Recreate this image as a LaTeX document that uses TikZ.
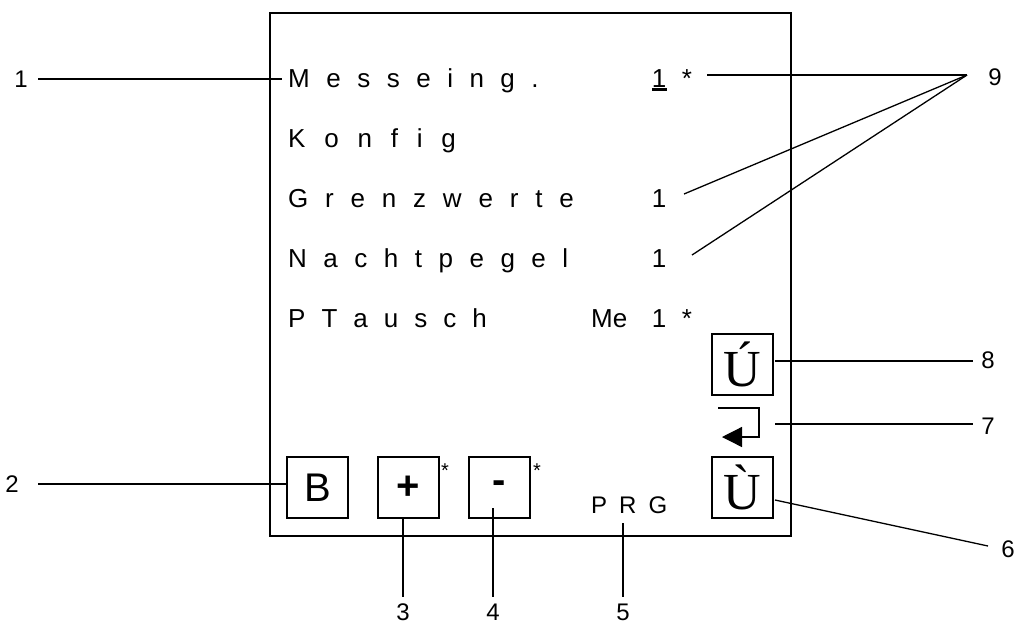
\documentclass[tikz,border=0pt]{standalone}
\usepackage{fontspec}
\setmainfont{Liberation Sans}
\newfontfamily\nf{Liberation Sans}
\newfontfamily\uf{Liberation Serif}
\usetikzlibrary{arrows.meta}
\newcommand\wsp[1]{\spaceskip=#1\relax}
\begin{document}
\begin{tikzpicture}[x=1pt,y=-1pt,
  rowtext/.style={anchor=base west, inner sep=0pt, font=\nf\fontsize{26}{30}\selectfont},
  valtext/.style={anchor=base, inner sep=0pt, font=\nf\fontsize{26}{30}\selectfont},
  lbl/.style={inner sep=0pt, font=\nf\fontsize{24}{28}\selectfont},
  btn/.style={draw, line width=2pt, minimum width=61pt, minimum height=61pt, inner sep=0pt},
  lead/.style={line width=1.3pt},
  starmark/.style={inner sep=0pt, font=\nf\fontsize{20}{20}\selectfont}]
\useasboundingbox (0,0) rectangle (1017,625);
\fill[white] (0,0) rectangle (1017,625);
% frame
\draw[line width=2pt] (270,13) rectangle (791,536);
% rows
\node[rowtext] (r1) at (288,87) {\wsp{16.5pt}M e s s e i n g .};
\node[rowtext] (r2) at (288,147) {\wsp{18.8pt}K o n f i g};
\node[rowtext] (r3) at (288,207) {\wsp{16.8pt}G r e n z w e r t e};
\node[rowtext] (r4) at (288,267) {\wsp{16.5pt}N a c h t p e g e l};
\node[rowtext] (r5) at (288,327) {\wsp{16pt}P T a u s c h};
\node[valtext] (v1) at (659,87) {1};
\fill (652,88) rectangle (667,91);
\node[valtext] (s1) at (687,87) {*};
\node[valtext] (v3) at (659,207) {1};
\node[valtext] (v4) at (659,267) {1};
\node[rowtext] (me) at (591,327) {Me};
\node[valtext] (v5) at (659,327) {1};
\node[valtext] (s5) at (687,327) {*};
% buttons
\node[btn, font=\nf\fontsize{40}{40}\selectfont] (bB) at (317.5,487.5) {B};
\node[btn, font=\nf\bfseries\fontsize{40}{40}\selectfont] (bP) at (408.5,487.5) {+};
\node[btn, font=\nf\bfseries\fontsize{40}{40}\selectfont] (bM) at (499.5,487.5) {-};
\node[starmark] (sP) at (445,471) {*};
\node[starmark] (sM) at (537,471) {*};
\node[rowtext, font=\nf\fontsize{24}{28}\selectfont] (prg) at (591,513) {\wsp{12pt}P R G};
\node[btn, font=\uf\fontsize{52}{52}\selectfont] (bUp) at (742,364.5) {Ú};
\node[btn, font=\uf\fontsize{52}{52}\selectfont] (bDn) at (742,487) {Ù};
% return symbol
\coordinate (ra) at (718,408);
\coordinate (rb) at (759,408);
\coordinate (rc) at (759,437);
\coordinate (rd) at (722,437);
\draw[line width=1.3pt, -{Triangle[length=20pt,width=20pt]}] (ra) -- (rb) -- (rc) -- (rd);
% labels
\node[lbl] (l1) at (21,79) {1};
\node[lbl] (l2) at (12,484) {2};
\node[lbl] (l3) at (403,612) {3};
\node[lbl] (l4) at (493,612) {4};
\node[lbl] (l5) at (623,612) {5};
\node[lbl] (l6) at (1008,549) {6};
\node[lbl] (l7) at (988,426) {7};
\node[lbl] (l8) at (988,360) {8};
\node[lbl] (l9) at (995,77) {9};
% leader coordinates
\coordinate (a1) at (38,79);   \coordinate (b1) at (282,79);
\coordinate (a2) at (38,484);  \coordinate (b2) at (287,484);
\coordinate (a3) at (403,518); \coordinate (b3) at (403,597);
\coordinate (a4) at (493,508); \coordinate (b4) at (493,597);
\coordinate (a5) at (623,523); \coordinate (b5) at (623,597);
\coordinate (a6) at (775,500); \coordinate (b6) at (988,546);
\coordinate (a7) at (775,424); \coordinate (b7) at (973,424);
\coordinate (a8) at (775,361); \coordinate (b8) at (973,361);
\coordinate (apex) at (967,75);
\coordinate (n1) at (707,75);
\coordinate (n2) at (684,194);
\coordinate (n3) at (692,255);
\draw[lead] (a1) -- (b1);
\draw[lead] (a2) -- (b2);
\draw[lead] (a3) -- (b3);
\draw[lead] (a4) -- (b4);
\draw[lead] (a5) -- (b5);
\draw[lead] (a6) -- (b6);
\draw[lead] (a7) -- (b7);
\draw[lead] (a8) -- (b8);
\draw[lead] (n1) -- (apex);
\draw[lead] (n2) -- (apex);
\draw[lead] (n3) -- (apex);
\end{tikzpicture}
\end{document}
